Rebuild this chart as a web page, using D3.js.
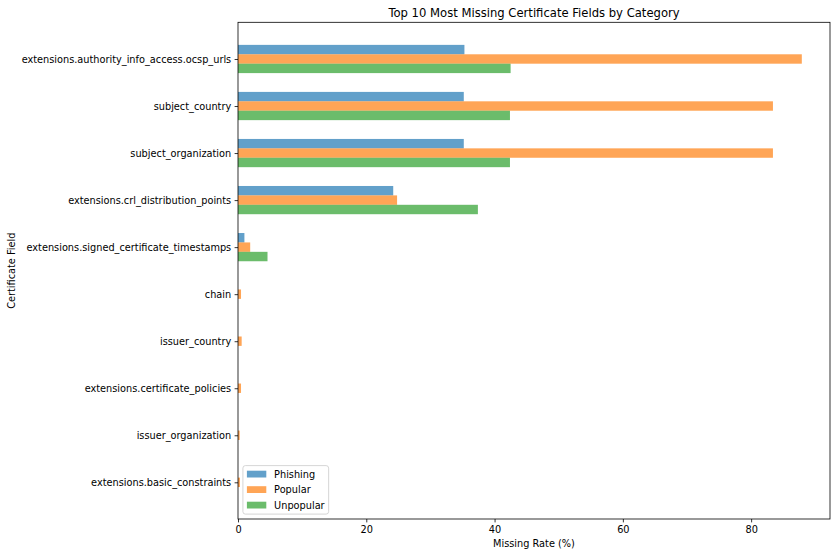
<!DOCTYPE html>
<html>
<head>
<meta charset="utf-8">
<script src="https://cdn.jsdelivr.net/npm/d3@7"></script>
<style>
  body { margin: 0; background: #fff; }
  svg { font-family: "DejaVu Sans", sans-serif; }
</style>
</head>
<body>
<svg id="chart" width="837" height="556"></svg>
<script>
const categories = [
  "extensions.authority_info_access.ocsp_urls",
  "subject_country",
  "subject_organization",
  "extensions.crl_distribution_points",
  "extensions.signed_certificate_timestamps",
  "chain",
  "issuer_country",
  "extensions.certificate_policies",
  "issuer_organization",
  "extensions.basic_constraints"
];
const seriesNames = ["Phishing", "Popular", "Unpopular"];
const phishing  = [35.3, 35.2, 35.2, 24.2, 1.0, 0.0, 0.0, 0.0, 0.0, 0.0];
const popular   = [87.9, 83.4, 83.4, 24.8, 1.9, 0.47, 0.57, 0.47, 0.26, 0.3];
const unpopular = [42.5, 42.4, 42.4, 37.4, 4.6, 0.0, 0.0, 0.0, 0.0, 0.0];
const xTicks = [0, 20, 40, 60, 80];
const colors = ["#1f77b4", "#ff7f0e", "#2ca02c"];

const seriesValues = [phishing, popular, unpopular];
const svg = d3.select("#chart");
const L = 238, R = 830, T = 22.3, B = 519;
const fs = 9.75;

const xMax = d3.max(seriesValues.flat()) * 1.05;
const x = d3.scaleLinear().domain([0, xMax]).range([L, R]);
const n = categories.length;
const barH = 0.2;
const lo = -0.3, hi = (n - 1) + 0.3, pad = (hi - lo) * 0.05;
const y = d3.scaleLinear().domain([lo - pad, hi + pad]).range([T, B]);

// bars
seriesValues.forEach((vals, s) => {
  const off = (s - 1) * barH;
  svg.append("g").selectAll("rect").data(vals).enter().append("rect")
    .attr("x", x(0))
    .attr("y", (d, i) => y(i + off - barH / 2))
    .attr("width", d => Math.max(0, x(d) - x(0)))
    .attr("height", y(barH) - y(0))
    .attr("fill", colors[s])
    .attr("fill-opacity", 0.7);
});

// x axis
const xAxis = d3.axisBottom(x).tickValues(xTicks).tickSize(3.4).tickPadding(3.4).tickFormat(d3.format("d"));
const gx = svg.append("g").attr("transform", `translate(0,${B})`).call(xAxis);
gx.select(".domain").remove();
gx.selectAll("line").attr("stroke", "#000").attr("stroke-width", 0.8);
gx.selectAll("text").attr("font-size", fs).attr("fill", "#000").attr("font-family", "DejaVu Sans");

// y axis
const yAxis = d3.axisLeft(y).tickValues(d3.range(n)).tickSize(3.4).tickPadding(3.4).tickFormat(i => categories[i]);
const gy = svg.append("g").attr("transform", `translate(${L},0)`).call(yAxis);
gy.select(".domain").remove();
gy.selectAll("line").attr("stroke", "#000").attr("stroke-width", 0.8);
gy.selectAll("text").attr("font-size", fs).attr("fill", "#000").attr("font-family", "DejaVu Sans");

// frame
svg.append("rect").attr("x", L).attr("y", T).attr("width", R - L).attr("height", B - T)
  .attr("fill", "none").attr("stroke", "#000").attr("stroke-width", 0.8);

// title & labels
svg.append("text").attr("x", (L + R) / 2).attr("y", 16.5).attr("text-anchor", "middle")
  .attr("font-size", 11.6).text("Top 10 Most Missing Certificate Fields by Category");
svg.append("text").attr("x", (L + R) / 2).attr("y", 547).attr("text-anchor", "middle")
  .attr("font-size", fs).text("Missing Rate (%)");
svg.append("text").attr("transform", `translate(15,${(T + B) / 2}) rotate(-90)`).attr("text-anchor", "middle")
  .attr("font-size", fs).text("Certificate Field");

// legend
const lg = svg.append("g");
const lx = L + 4.9, lyB = B - 4.9;
const rowH = 15.5;
const lh = 3 * rowH + 2;
const box = lg.append("rect").attr("x", lx).attr("y", lyB - lh).attr("rx", 2.5)
  .attr("height", lh).attr("fill", "#fff").attr("fill-opacity", 0.8)
  .attr("stroke", "#cccccc").attr("stroke-width", 0.8);
let maxW = 0;
seriesNames.forEach((name, s) => {
  const cy = lyB - lh + 8.5 + s * rowH;
  lg.append("rect").attr("x", lx + 4).attr("y", cy - 3.4).attr("width", 19.4).attr("height", 6.8)
    .attr("fill", colors[s]).attr("fill-opacity", 0.7);
  const t = lg.append("text").attr("x", lx + 4 + 19.4 + 7.8).attr("y", cy).attr("dy", "0.35em")
    .attr("font-size", fs).text(name);
  maxW = Math.max(maxW, t.node().getComputedTextLength());
});
box.attr("width", 4 + 19.4 + 7.8 + maxW + 4);
</script>
</body>
</html>
